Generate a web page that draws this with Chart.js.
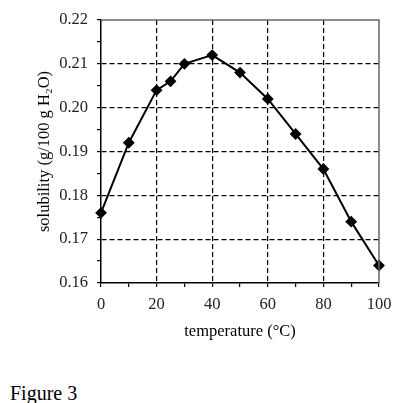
<!DOCTYPE html>
<html lang="en">
<head>
<meta charset="UTF-8">
<title>Figure 3</title>
<script src="https://cdn.jsdelivr.net/npm/chart.js"></script>
<style>
    body { margin: 0; background: #fff; width: 413px; height: 403px; position: relative; overflow: hidden; }
    #wrap { position: absolute; left: 0; top: 0; width: 413px; height: 342px; }
    #caption { position: absolute; left: 10px; top: 383px; font: 20px "Liberation Serif", serif; line-height: 20px; color: #000; }
</style>
</head>
<body>
<div id="wrap"><canvas id="chart"></canvas></div>
<div id="caption">Figure 3</div>
<script>
    // temperature (°C) and solubility (g/100 g H2O)
    const temperature = [0, 10, 20, 25, 30, 40, 50, 60, 70, 80, 90, 100];
    const solubility = [0.176, 0.192, 0.204, 0.206, 0.210, 0.212, 0.208, 0.202, 0.194, 0.186, 0.174, 0.164];
    const xLabels = [0, 20, 40, 60, 80, 100];
    const yLabels = [0.16, 0.17, 0.18, 0.19, 0.20, 0.21, 0.22];

    const serif = '"Liberation Serif", "Times New Roman", serif';
    const inList = (list, v) => list.some(t => Math.abs(t - v) < 1e-9);

    // top and right frame lines
    const frame = {
        id: 'frame',
        afterDraw(chart) {
            const a = chart.chartArea, c = chart.ctx;
            c.save();
            c.strokeStyle = '#666';
            c.lineWidth = 1.5;
            c.setLineDash([]);
            c.beginPath();
            c.moveTo(a.left, a.top);
            c.lineTo(a.right, a.top);
            c.lineTo(a.right, a.bottom);
            c.stroke();
            c.restore();
        }
    };

    new Chart(document.getElementById('chart'), {
        type: 'line',
        data: {
            datasets: [{
                data: temperature.map((t, i) => ({x: t, y: solubility[i]})),
                borderColor: '#000',
                backgroundColor: '#000',
                borderWidth: 2,
                pointStyle: 'rectRot',
                pointRadius: 4.5,
                pointBackgroundColor: '#000',
                tension: 0,
                clip: false
            }]
        },
        options: {
            responsive: true,
            maintainAspectRatio: false,
            animation: false,
            layout: { padding: { left: 0, top: 20, right: 34, bottom: 0 } },
            plugins: { legend: { display: false }, tooltip: { enabled: false } },
            scales: {
                x: {
                    type: 'linear',
                    min: 0, max: 100,
                    afterFit: s => { s.height = 59; },
                    ticks: {
                        stepSize: 10,
                        autoSkip: false,
                        maxRotation: 0,
                        padding: 8,
                        color: '#222',
                        font: { family: serif, size: 16.5 },
                        callback: v => inList(xLabels, v) ? v : ''
                    },
                    grid: {
                        color: ctx => (ctx.tick && inList(xLabels, ctx.tick.value) && ctx.tick.value > 0 && ctx.tick.value < 100) ? '#000' : 'rgba(0,0,0,0)',
                        lineWidth: 1.2,
                        tickColor: '#000',
                        tickLength: 4,
                        tickWidth: 1.2,
                        tickBorderDash: []
                    },
                    border: { display: true, color: '#000', width: 1.5, dash: [5, 3] },
                    title: {
                        display: true,
                        text: 'temperature (°C)',
                        color: '#000',
                        font: { family: serif, size: 16.5 },
                        padding: { top: 2, bottom: 0 }
                    }
                },
                y: {
                    min: 0.16, max: 0.22,
                    afterFit: s => { s.width = 101; },
                    ticks: {
                        stepSize: 0.005,
                        autoSkip: false,
                        padding: 9,
                        color: '#222',
                        font: { family: serif, size: 16.5 },
                        callback: v => inList(yLabels, v) ? v.toFixed(2) : ''
                    },
                    grid: {
                        color: ctx => (ctx.tick && inList(yLabels, ctx.tick.value) && ctx.tick.value > 0.161 && ctx.tick.value < 0.219) ? '#000' : 'rgba(0,0,0,0)',
                        lineWidth: 1.2,
                        tickColor: '#000',
                        tickLength: 4,
                        tickWidth: 1.2,
                        tickBorderDash: []
                    },
                    border: { display: true, color: '#000', width: 1.5, dash: [5, 3] },
                    title: {
                        display: true,
                        text: 'solubility (g/100 g H₂O)',
                        color: '#000',
                        font: { family: serif, size: 16.5 },
                        padding: { top: 35, bottom: 0 }
                    }
                }
            }
        },
        plugins: [frame]
    });
</script>
</body>
</html>
